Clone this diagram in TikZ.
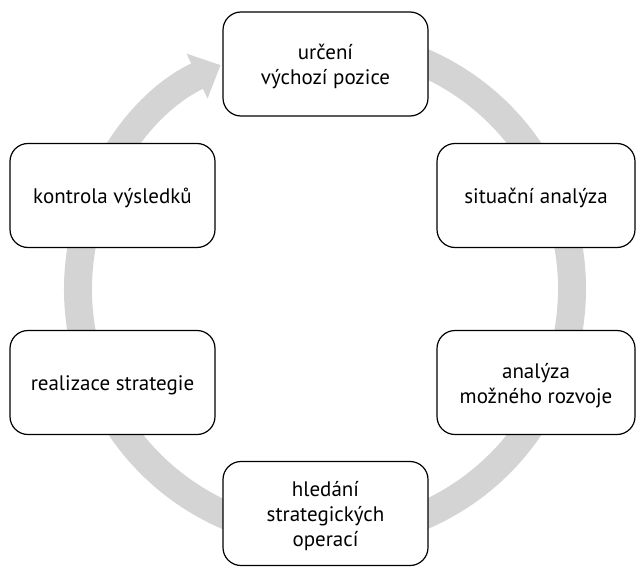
\documentclass[tikz,border=0pt]{standalone}
\usepackage{fontspec}
\setmainfont{PT Sans}
\usetikzlibrary{arrows.meta}
\definecolor{ringgray}{RGB}{211,212,211}
\newcommand\boxtext[1]{\raisebox{-3pt}[\height][\depth]{\begin{tabular}{@{}c@{}}#1\end{tabular}}}
\begin{document}
\begin{tikzpicture}[x=1pt,y=1pt,
  stagebox/.style={draw=black, line width=1.2pt, rounded corners=18pt, fill=white,
    minimum width=205pt, minimum height=104pt,
    font=\fontsize{21}{25}\selectfont, inner sep=0pt},
  narrowbox/.style={stagebox, minimum width=198pt},
  ring/.style={draw=ringgray, line width=28pt, -{Triangle[width=48pt,length=26pt]}}]
\useasboundingbox (0,0) rectangle (636,566);
\coordinate (c) at (325,277);
\draw[ring] (c) ++(85:247) arc[start angle=85, end angle=-245, radius=247];
\node[stagebox] (top) at (325.5,502) {\boxtext{určení\\výchozí pozice}};
\node[narrowbox] (rt) at (536,370.5) {\boxtext{situační analýza}};
\node[narrowbox] (rb) at (536,183.5) {\boxtext{analýza\\možného rozvoje}};
\node[stagebox] (bot) at (325.5,52.5) {\boxtext{hledání\\strategických\\operací}};
\node[stagebox] (lb) at (112.5,183.5) {\boxtext{realizace strategie}};
\node[stagebox] (lt) at (112.5,370.5) {\boxtext{kontrola výsledků}};
\end{tikzpicture}
\end{document}
